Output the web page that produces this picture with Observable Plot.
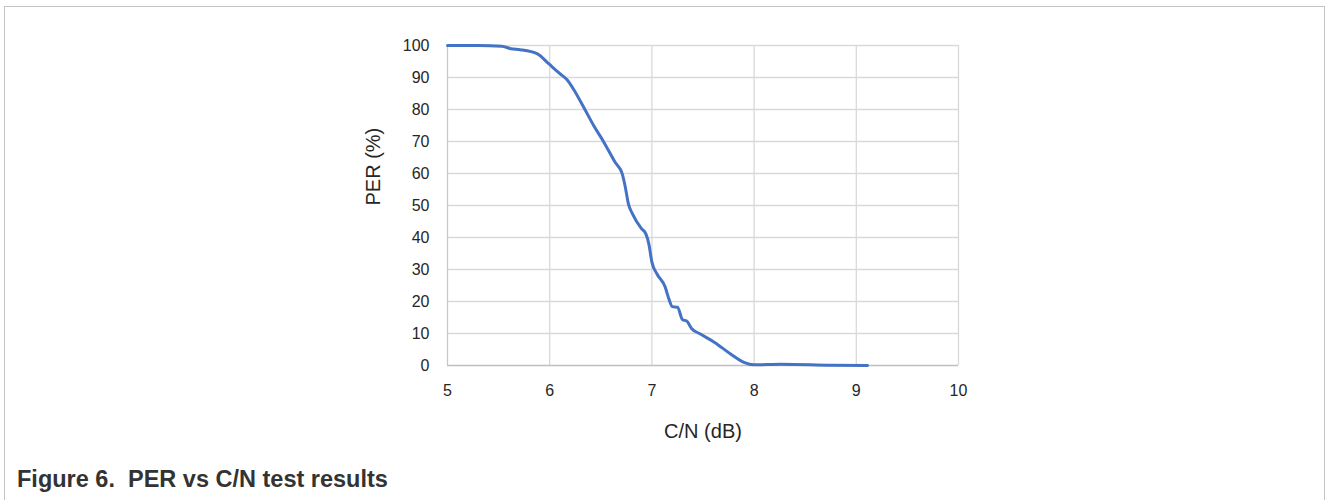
<!DOCTYPE html>
<html>
<head>
<meta charset="utf-8">
<script src="https://cdn.jsdelivr.net/npm/d3@7"></script>
<script src="https://cdn.jsdelivr.net/npm/@observablehq/plot@0.6"></script>
<style>
  html, body { margin: 0; padding: 0; background: #fff; width: 1328px; height: 500px; overflow: hidden; }
  #frame { position: absolute; left: 4px; top: 6px; width: 1321px; height: 520px; border: 1px solid #c4c4c4; box-sizing: border-box; }
  #chart { position: absolute; left: 0; top: 0; }
  #caption { position: absolute; left: 17px; top: 466px; font: bold 23.5px "Liberation Sans", Arial, sans-serif; color: #333; white-space: pre; }
</style>
</head>
<body>
<div id="frame"></div>
<div id="chart"></div>
<div id="caption">Figure 6.  PER vs C/N test results</div>
<script>
const cnValues = [5.0, 5.3, 5.53, 5.62, 5.71, 5.88, 5.99, 6.10, 6.17, 6.23, 6.35, 6.43, 6.53, 6.64, 6.71, 6.74, 6.77, 6.81, 6.90, 6.94, 6.97, 7.00, 7.05, 7.13, 7.16, 7.20, 7.25, 7.30, 7.34, 7.39, 7.47, 7.61, 7.77, 7.90, 8.0, 8.26, 8.75, 9.11];
const perValues = [100, 100, 99.8, 99, 98.7, 97.4, 94.3, 91.2, 89.3, 86.5, 79.7, 75, 69.8, 63.5, 59.9, 55.7, 50.5, 47.4, 42.7, 41.2, 38, 32.3, 28.6, 24.5, 21.4, 18.4, 18.2, 14.3, 13.9, 11.5, 9.9, 7.3, 3.6, 1.0, 0.2, 0.4, 0.1, 0];
const xTicks = [5, 6, 7, 8, 9, 10];
const yTicks = [0, 10, 20, 30, 40, 50, 60, 70, 80, 90, 100];
const xTitle = "C/N (dB)";
const yTitle = "PER (%)";

const data = cnValues.map((x, i) => ({x, y: perValues[i]}));

const chart = Plot.plot({
  width: 1328,
  height: 460,
  marginLeft: 447,
  marginRight: 370,
  marginTop: 45,
  marginBottom: 95,
  style: {fontFamily: "'Liberation Sans', Arial, sans-serif", fontSize: "16px", background: "transparent"},
  x: {domain: [5, 10]},
  y: {domain: [0, 100]},
  marks: [
    Plot.ruleX(xTicks.slice(1), {stroke: "#d9d9d9", strokeWidth: 1.3, strokeOpacity: 1}),
    Plot.ruleY(yTicks.slice(1), {stroke: "#d9d9d9", strokeWidth: 1.3, strokeOpacity: 1}),
    Plot.ruleX([5], {stroke: "#c8c8c8", strokeWidth: 1.3}),
    Plot.ruleY([0], {stroke: "#bfbfbf", strokeWidth: 1.3}),
    Plot.axisX(xTicks, {tickSize: 0, tickPadding: 19, fontSize: 16, fill: "#262626", label: null}),
    Plot.axisY(yTicks, {tickSize: 0, tickPadding: 18, fontSize: 16, fill: "#262626", label: null}),
    Plot.text([xTitle], {frameAnchor: "bottom", dy: 72, fontSize: 20, fill: "#262626"}),
    Plot.text([yTitle], {frameAnchor: "left", dx: -74, rotate: -90, fontSize: 20, fill: "#262626"}),
    Plot.line(data, {x: "x", y: "y", stroke: "#4472C4", strokeWidth: 3, curve: "monotone-x"})
  ]
});
document.getElementById("chart").appendChild(chart);
</script>
</body>
</html>
